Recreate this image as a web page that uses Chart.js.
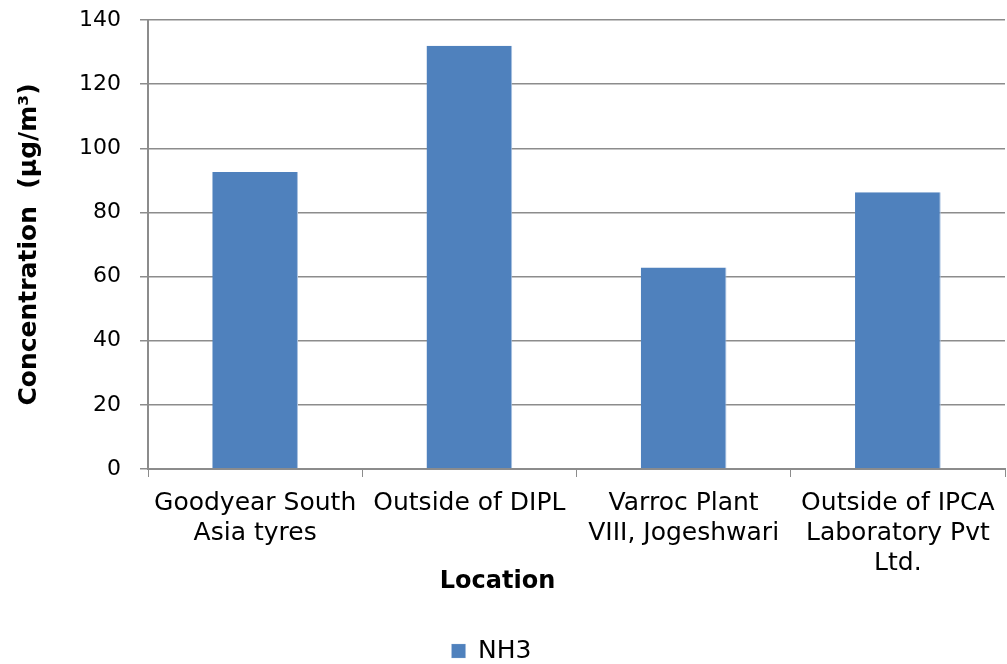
<!DOCTYPE html>
<html>
<head>
<meta charset="utf-8">
<script src="https://cdn.jsdelivr.net/npm/chart.js@4"></script>
<style>
  html, body { margin: 0; padding: 0; background: #fff; }
  #wrap { width: 1007px; height: 664px; }
</style>
</head>
<body>
<div id="wrap"><canvas id="nh3Chart" width="1007" height="664"></canvas></div>
<script>
const locations = [
  ['Goodyear South', 'Asia tyres'],
  'Outside of DIPL',
  ['Varroc Plant', 'VIII, Jogeshwari'],
  ['Outside of IPCA', 'Laboratory Pvt', 'Ltd.']
];
const nh3 = [92.6, 132, 62.8, 86.3];

const FONT = "Verdana, 'DejaVu Sans', sans-serif";
const gridGray = '#8c8c8c';

// the axis title and legend sit a little left of the page centre in the original
const nudgeBottom = {
  id: 'nudgeBottom',
  afterLayout(chart) {
    const lg = chart.legend, tb = chart.titleBlock;
    if (lg) { lg.left -= 18; lg.right -= 18; }
    if (tb) { tb.left -= 12; tb.right -= 12; }
  }
};

const ctx = document.getElementById('nh3Chart').getContext('2d');
new Chart(ctx, {
  type: 'bar',
  data: {
    labels: locations,
    datasets: [{
      label: 'NH3',
      data: nh3,
      backgroundColor: '#4f81bd',
      borderColor: '#a9c1e0',
      borderWidth: { right: 1 },
      barPercentage: 0.4,
      categoryPercentage: 1
    }]
  },
  options: {
    responsive: false,
    animation: false,
    layout: { padding: { left: 14, right: 2, top: 20, bottom: -9.5 } },
    plugins: {
      legend: {
        position: 'bottom',
        labels: {
          boxWidth: 14,
          boxHeight: 14,
          padding: 2,
          color: '#000',
          font: { family: FONT, size: 25 }
        }
      },
      // sits between the axis and the legend
      title: {
        display: true,
        position: 'bottom',
        weight: 500,
        text: 'Location',
        color: '#000',
        font: { family: FONT, size: 24, weight: 'bold' },
        padding: { top: -12, bottom: 40.7 }
      },
      tooltip: { enabled: false }
    },
    scales: {
      x: {
        afterFit: scale => { scale.height = 110; },
        grid: {
          drawOnChartArea: false,
          drawTicks: true,
          tickLength: 8,
          color: gridGray
        },
        border: { color: gridGray, width: 2 },
        ticks: {
          color: '#000',
          padding: 11,
          maxRotation: 0,
          autoSkip: false,
          font: { family: FONT, size: 25, lineHeight: 1.2 }
        }
      },
      y: {
        min: 0,
        max: 140,
        afterFit: scale => {
          scale.width = 134;
          // tick padding would otherwise push the plot top down
          scale.paddingTop = 0;
          scale.paddingBottom = 0;
        },
        grid: {
          color: gridGray,
          lineWidth: 1.5,
          tickLength: 8
        },
        border: { color: gridGray, width: 2 },
        ticks: {
          stepSize: 20,
          color: '#000',
          padding: 19,
          font: { family: FONT, size: 22 }
        },
        title: {
          display: true,
          text: 'Concentration  (µg/m³)',
          color: '#000',
          padding: 0,
          font: { family: FONT, size: 25, weight: 'bold' }
        }
      }
    }
  },
  plugins: [nudgeBottom]
});
</script>
</body>
</html>
